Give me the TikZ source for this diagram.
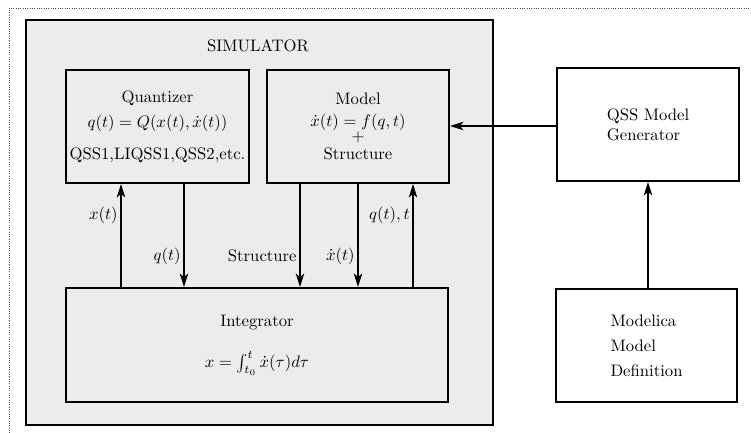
\documentclass[tikz,border=0pt]{standalone}
\usepackage{amsmath,amssymb}
\usetikzlibrary{positioning,calc,arrows.meta}

\begin{document}
\begin{tikzpicture}[x=0.6pt,y=-0.6pt,
   blk/.style={draw,line width=1.2pt,fill=#1,align=center,inner sep=0pt},
   blk/.default=gray!15,
   flow/.style={line width=1.1pt,-{Stealth[length=8pt,width=5pt,inset=2pt]}},
   lbl/.style={left,pos=0.7,inner sep=1.5pt}]
 \useasboundingbox (0,0) rectangle (751,433);
 \draw[densely dotted,gray!60!black] (9,433) -- (9,8) -- (751,8);
 % simulator
 \node[blk,minimum width=280.2pt,minimum height=243pt] (sim) at (259.5,222.5) {};
 \node (simtitle) at (258,46) {SIMULATOR};
 \node[blk,minimum width=109.8pt,minimum height=67.8pt] (quant) at (157.5,126.5)
   {Quantizer\\[3pt] $q(t)=Q(x(t),\dot{x}(t))$\\[7pt] QSS1,LIQSS1,QSS2,etc.};
 \node[blk,minimum width=109.2pt,minimum height=67.8pt] (model) at (358,126.5)
   {Model\\[1pt] $\dot{x}(t)=f(q,t)$\\[-3pt] $+$\\[-1pt] Structure};
 \node[blk,minimum width=229.2pt,minimum height=68.4pt] (integ) at (257,345)
   {Integrator\\[13pt] $x=\int_{t_0}^{t}\dot{x}(\tau)d\tau$};
 % generator side
 \node[blk=white,minimum width=109.2pt,minimum height=67.8pt] (gen) at (648,124.5) {};
 \node[align=left] (gentext) at (gen) {QSS Model\\Generator};
 \node[blk=white,minimum width=108.6pt,minimum height=67.8pt] (modelica) at (646.5,345.5) {};
 \node[align=left] (modtext) at (modelica) {Modelica\\[3pt]Model\\[3pt]Definition};
 % arrow columns
 \coordinate (cx) at ($(quant.south west)+(56,0)$);
 \coordinate (cq) at ($(quant.south west)+(119,0)$);
 \coordinate (cs) at ($(model.south west)+(34,0)$);
 \coordinate (cd) at ($(model.south west)+(92,0)$);
 \coordinate (ct) at ($(model.south west)+(147,0)$);
 \coordinate (cg) at ($(gen.west)+(0,1.5)$);
 \draw[flow] (integ.north -| cx) -- node[lbl]{$x(t)$} (quant.south -| cx);
 \draw[flow] (quant.south -| cq) -- node[lbl]{$q(t)$} (integ.north -| cq);
 \draw[flow] (model.south -| cs) -- node[lbl]{Structure} (integ.north -| cs);
 \draw[flow] (model.south -| cd) -- node[lbl]{$\dot{x}(t)$} (integ.north -| cd);
 \draw[flow] (integ.north -| ct) -- node[lbl]{$q(t),t$} (model.south -| ct);
 \draw[flow] (cg) -- (model.east |- cg);
 \draw[flow] (modelica.north -| gen) -- (gen.south);
\end{tikzpicture}
\end{document}
